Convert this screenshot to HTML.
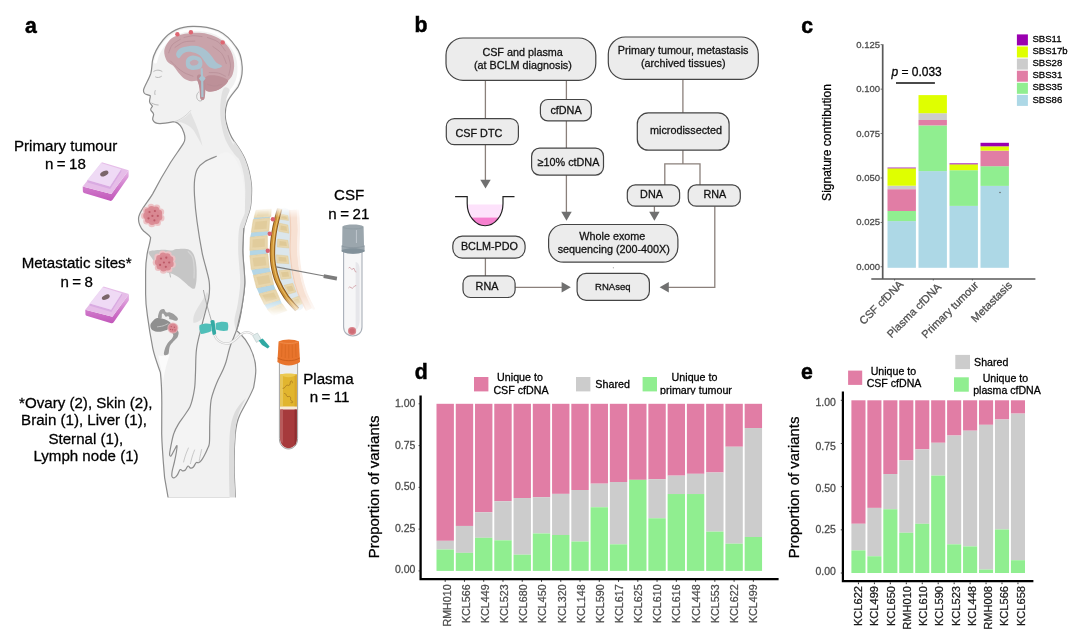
<!DOCTYPE html>
<html lang="en"><head><meta charset="utf-8"><title>Figure</title>
<style>html,body{margin:0;padding:0;background:#fff}body{width:1080px;height:639px;overflow:hidden;font-family:"Liberation Sans",sans-serif}svg{display:block;opacity:0.999}svg text{font-family:"Liberation Sans",sans-serif}.t rect,.t circle,.t path{stroke:none}</style>
</head><body>
<svg width="1080" height="639" viewBox="0 0 1080 639">
<rect width="1080" height="639" fill="#fff"/>
<defs>
<linearGradient id="skinfade" x1="0" y1="0" x2="1" y2="0">
<stop offset="0" stop-color="#f3d2c0"/><stop offset="0.6" stop-color="#f8e3d8"/><stop offset="1" stop-color="#ffffff"/>
</linearGradient>
<radialGradient id="tum" cx="0.5" cy="0.5" r="0.5">
<stop offset="0" stop-color="#d97f8a"/><stop offset="0.75" stop-color="#dc8b95"/><stop offset="1" stop-color="#e9b3b8"/>
</radialGradient>
<linearGradient id="fadev" x1="0" y1="0" x2="0" y2="1">
<stop offset="0" stop-color="#000"/><stop offset="0.1" stop-color="#fff"/><stop offset="0.82" stop-color="#fff"/><stop offset="1" stop-color="#000"/>
</linearGradient>
<mask id="spinemask" maskUnits="userSpaceOnUse" x="240" y="200" width="100" height="125"><rect x="240" y="207" width="100" height="109" fill="url(#fadev)"/></mask>
<linearGradient id="cassside" x1="0" y1="0" x2="0" y2="1"><stop offset="0" stop-color="#e6b7e6"/><stop offset="0.55" stop-color="#d07acb"/><stop offset="1" stop-color="#c257ba"/></linearGradient>
</defs>

<!-- ===================== BODY ===================== -->
<g id="body" stroke-linejoin="round" stroke-linecap="round">
<!-- torso + head + legs silhouette -->
<path id="torso" d="M192.3 26.4
C181 26.6 170 31.5 163 40 C157 47.5 153.4 55 152.4 61 C151.8 66 151.8 70 150.8 73.5
C149 79 145 85 143.6 89.6 C143.2 92 144.4 94 147 94.6 L150.2 95.6 C150.6 97.6 149.2 99.8 149.6 102
C150 104 152 105 152.4 106.4 C151.6 107.6 150.4 108.6 150.8 110 C151.4 111.6 153.4 112.4 153.6 114.4
C153.6 116.4 152.2 118 152.8 119.8 C153.6 122.4 156.4 123.6 160 123.6 C165 123.4 170 122.4 174.6 121.6
C179 123 182.4 127.6 184 133 C185.6 138 185 141 183.4 143.4
C180 149 175 155.6 170.4 162.8 C164 173 158 183.6 152.8 193.6 C148 202 140.6 209 138.8 216.6
C137.6 222 140.6 228 143.6 231 C146.4 233.6 149.4 235 150.6 237.4
C150.4 242 148.4 247 147.4 252.6 C146 260 145.6 266 145.6 272 L145.6 294
C145.6 302 146.4 309 147.4 315.6 C148.8 326 150.6 337 152.8 348.4 C154.6 357 157.8 365 160.4 372.6
C161.4 382 161.8 392 161.8 402.8 L161.7 434 C162 448 163.4 463 164.6 477.6 L168.2 498.2
L235.4 498.2 C235 488 234.2 478 234.2 468.6 C234 456 234.2 446 235.2 434.4
C236 426 237.4 420 239.6 415.4 C243 408 249 399 253.6 387.6 C254.8 381 255.8 376 255.8 370
C255.8 362 253 353 249.6 346.4 C246.8 341 243.6 337 240.4 334 L236.4 330.4
C238.4 326 240.4 318 242.2 304.8 C243.6 296 244.8 289 244.8 282.8 C244.6 272 243 260 242.8 250
C242.8 242 243.2 235 243.8 228.4 C245 224 246.4 221 247.2 217.4 C249.4 212 250.8 207 251 202.4
C251.6 196 251.8 190 251.4 184.8 C250.4 175 248 166 244.8 158.4 C241.4 151 237.6 146 234 141
C230 135.6 227.6 128 226 121.6 C224.6 115 225.2 108 227.4 102 C230 96 235 91.6 238.2 86.6
C241 81 242.6 74 242.2 66.8 C241.6 57 239.4 51 236 47 C231 39.6 225 34 218.4 30.8 C210 27.4 201 26.2 192.3 26.4 Z"
 fill="#f1f1f1" stroke="#8c8c8c" stroke-width="1.2"/>
<!-- inner highlight of skull -->
<path d="M191.5 29.6 C182 30 172.6 34 166 41.6 C160 48.6 156.6 55.6 155.4 62 M193 29.4 C203 29.4 211 30.6 217 33.6 C224 37.2 229.4 42.4 233.6 49 C237.4 55 238.8 60.6 239 67 C239.4 74 238 80 235.4 85 C232 90.6 227.6 94 224.8 100"
 fill="none" stroke="#ffffff" stroke-width="3.2" opacity="0.9"/>
<!-- back shading -->
<path d="M234 141 C237.6 146 241.4 151 244.8 158.4 C248 166 250.4 175 251.4 184.8 C251.8 190 251.6 196 251 202.4 C250.8 207 249.4 212 247.2 217.4 C246.4 221 245 224 243.8 228.4
C243.6 222 244 214 244.6 206 C245.6 196 245.6 186 244 176 C242.4 166 238.6 156 233 148 Z" fill="#e0e0e0"/>
<path d="M229.6 90.0 C230.0 92.0 226.9 95.5 226.2 100.3 C225.5 105.1 224.4 112.6 225.2 119.1 C225.9 125.6 228.0 133.0 230.7 139.5 C233.4 146.0 240.7 155.4 241.6 158.2 C242.5 160.9 238.7 159.1 236.0 156.0 C233.3 152.9 228.0 145.7 225.4 139.5 C222.8 133.3 221.4 125.6 220.6 119.1 C219.8 112.6 220.2 105.5 220.8 100.3 C221.4 95.1 222.5 89.7 224.0 88.0 C225.5 86.3 229.2 88.0 229.6 90.0 Z" fill="#e0e0e0"/>
<!-- back thigh shade -->
<path d="M246 398 C242 405 239.6 410.4 238 415.4 C236 422 235.4 428 235.2 434.4 C234.2 446 234 456 234.2 468.6 C234.2 478 235 488 235.4 498.2 L229.6 498.2 C229 480 228.6 456 229.6 436 C230.4 424 232.6 416 236 410 C239 405 242.6 401 246 398 Z" fill="#dcdcdc"/>
<!-- groin highlight -->
<path d="M158.2 355.6 C159.4 362 161 368 162 374 C162.4 377 162.8 380 163 383 C164 374 166.6 363 169.8 354.6 C166 355.8 162 356.2 158.2 355.6 Z" fill="#fbfbfb"/>
<!-- eye & ear details -->
<path d="M155.6 77 C157.4 78 159.6 77.6 161.4 76.4 M153.8 71.4 C156 69.8 159.6 69.6 162 71.4 M155.2 90.6 C154.6 92 154.6 93.6 155 94.6 M151.9 103.2 C154 104.4 156.4 105 158.2 105" fill="none" stroke="#a9a9a9" stroke-width="0.8" stroke-linecap="round"/>
<path d="M198.6 92 C196 94 196 98.6 198.4 100.4 C200 101.6 202 101 203 99.4" fill="none" stroke="#a5a5a5" stroke-width="0.7"/>
<path d="M176 121.4 C181 120.4 186.6 116.6 190.6 112 C193 118 196 124 198 130 C200 136 201.6 141 202.4 146 C199.6 141 197 136 194 131 C190.6 126 184 122 176 121.4 Z" fill="#e2e2e2"/>
<!-- jaw line -->
<path d="M174.6 121.6 C180 120 186 116 190.6 110.6" fill="none" stroke="#d2d2d2" stroke-width="0.9"/>

<path d="M207 292 C203 300 197 308 194.4 314 C193 318 193 321 193.6 323 C197 322.6 200 321 202 318.6 C205 312 208 304 209.6 296 Z" fill="#e0e0e0"/>
<!-- arm (in front of torso) -->
<path id="arm" d="M216.3 156.3 C213.5 157.7 208.2 159.4 205.0 161.5 C201.8 163.6 199.1 165.9 197.4 169.0 C195.7 172.1 195.1 175.6 194.6 180.0 C194.1 184.4 194.1 188.7 194.5 195.7 C194.9 202.7 195.8 212.5 197.1 222.0 C198.4 231.5 200.6 244.9 202.1 252.6 C203.6 260.3 204.8 263.0 206.0 268.0 C207.2 273.0 208.9 277.8 209.3 282.8 C209.8 287.8 209.9 291.2 208.7 298.2 C207.5 305.1 204.1 316.1 202.1 324.5 C200.1 332.9 197.7 340.5 196.6 348.5 C195.5 356.5 195.8 366.0 195.5 372.6 C195.2 379.2 195.2 383.4 194.6 388.0 C194.0 392.6 193.0 396.9 192.2 400.0 C191.4 403.1 191.2 404.3 189.9 406.9 C188.6 409.5 186.3 412.6 184.4 415.5 C182.5 418.4 180.1 421.2 178.4 424.1 C176.7 427.0 175.2 429.6 174.1 432.7 C172.9 435.8 172.2 439.4 171.5 443.0 C170.8 446.6 169.7 451.9 169.6 454.0 C169.5 456.1 170.4 456.4 171.2 455.7 C172.0 454.9 173.6 451.2 174.6 449.5 C175.6 447.8 176.7 445.2 177.0 445.6 C177.3 446.0 176.8 449.3 176.4 452.0 C176.0 454.7 175.1 458.8 174.4 462.0 C173.7 465.2 172.6 468.6 172.2 471.0 C171.8 473.4 171.6 475.5 172.0 476.6 C172.4 477.7 173.5 478.1 174.4 477.8 C175.3 477.5 176.4 476.2 177.4 474.8 C178.4 473.4 179.3 470.2 180.2 469.6 C181.1 469.0 181.7 470.8 182.6 470.9 C183.5 471.0 184.5 470.8 185.4 470.0 C186.3 469.2 187.1 466.3 188.0 466.0 C188.9 465.7 189.7 467.9 190.6 468.1 C191.5 468.3 192.5 467.9 193.4 467.0 C194.3 466.1 195.3 463.3 196.2 462.6 C197.1 461.9 197.7 463.1 198.6 462.7 C199.5 462.3 200.4 461.7 201.4 460.4 C202.4 459.1 203.6 456.9 204.6 455.0 C205.6 453.1 206.6 451.0 207.4 449.0 C208.2 447.0 209.0 446.9 209.4 443.0 C209.8 439.1 209.6 431.2 209.7 425.8 C209.8 420.4 210.0 414.6 210.2 410.3 C210.4 406.0 210.5 403.4 211.1 400.0 C211.7 396.6 212.8 393.3 214.0 390.0 C215.2 386.7 216.5 383.3 218.0 380.0 C219.5 376.7 221.6 373.0 222.9 370.0 C224.2 367.0 224.9 365.6 226.0 362.0 C227.1 358.4 228.4 352.2 229.5 348.5 C230.6 344.8 231.4 343.0 232.6 340.0 C233.8 337.0 235.3 333.7 236.4 330.4 C237.5 327.1 238.0 324.3 239.0 320.0 C240.0 315.7 241.2 311.0 242.2 304.8 C243.2 298.6 244.6 289.9 244.8 282.8 C245.0 275.7 243.8 267.5 243.5 262.0 C243.2 256.5 242.8 255.6 242.8 250.0 C242.9 244.4 243.4 236.1 243.8 228.4 C244.2 220.7 245.0 211.4 245.0 204.0 C245.0 196.6 244.4 190.0 243.6 184.0 C242.8 178.0 241.6 172.5 240.0 168.0 C238.4 163.5 236.0 159.6 234.0 157.0 C232.0 154.4 230.0 153.2 228.0 152.6 C226.0 152.0 223.9 152.6 222.0 153.2 C220.1 153.8 219.1 154.9 216.3 156.3 Z" fill="#f4f4f4" stroke="none"/>
<path d="M246.0 212.0 C245.7 214.7 244.3 222.1 243.8 228.4 C243.3 234.7 242.9 244.4 242.8 250.0 C242.8 255.6 243.2 256.5 243.5 262.0 C243.8 267.5 245.0 275.7 244.8 282.8 C244.6 289.9 243.2 298.6 242.2 304.8 C241.2 311.0 240.0 315.7 239.0 320.0 C238.0 324.3 236.9 328.7 236.4 330.4 C235.9 332.1 236.2 332.1 235.9 330.4 C235.6 328.7 234.1 324.3 234.4 320.0 C234.7 315.7 236.6 311.0 237.6 304.8 C238.6 298.6 240.0 289.9 240.2 282.8 C240.4 275.7 239.2 267.5 238.9 262.0 C238.6 256.5 238.2 255.6 238.2 250.0 C238.3 244.4 238.0 234.7 239.2 228.4 C240.4 222.1 244.4 214.7 245.5 212.0 C246.6 209.3 246.3 209.3 246.0 212.0 Z" fill="#e1e1e1"/>
<path d="M216.3 156.3 C214.4 157.2 208.2 159.4 205.0 161.5 C201.8 163.6 199.1 165.9 197.4 169.0 C195.7 172.1 195.1 175.6 194.6 180.0 C194.1 184.4 194.1 188.7 194.5 195.7 C194.9 202.7 195.8 212.5 197.1 222.0 C198.4 231.5 200.6 244.9 202.1 252.6 C203.6 260.3 204.8 263.0 206.0 268.0 C207.2 273.0 208.9 277.8 209.3 282.8 C209.8 287.8 209.9 291.2 208.7 298.2 C207.5 305.1 204.1 316.1 202.1 324.5 C200.1 332.9 197.7 340.5 196.6 348.5 C195.5 356.5 195.8 366.0 195.5 372.6 C195.2 379.2 195.2 383.4 194.6 388.0 C194.0 392.6 193.0 396.9 192.2 400.0 C191.4 403.1 191.2 404.3 189.9 406.9 C188.6 409.5 186.3 412.6 184.4 415.5 C182.5 418.4 180.1 421.2 178.4 424.1 C176.7 427.0 175.2 429.6 174.1 432.7 C172.9 435.8 172.2 439.4 171.5 443.0 C170.8 446.6 169.7 451.9 169.6 454.0 C169.5 456.1 170.4 456.4 171.2 455.7 C172.0 454.9 173.6 451.2 174.6 449.5 C175.6 447.8 176.7 445.2 177.0 445.6 C177.3 446.0 176.8 449.3 176.4 452.0 C176.0 454.7 175.1 458.8 174.4 462.0 C173.7 465.2 172.6 468.6 172.2 471.0 C171.8 473.4 171.6 475.5 172.0 476.6 C172.4 477.7 173.5 478.1 174.4 477.8 C175.3 477.5 176.4 476.2 177.4 474.8 C178.4 473.4 179.3 470.2 180.2 469.6 C181.1 469.0 181.7 470.8 182.6 470.9 C183.5 471.0 184.5 470.8 185.4 470.0 C186.3 469.2 187.1 466.3 188.0 466.0 C188.9 465.7 189.7 467.9 190.6 468.1 C191.5 468.3 192.5 467.9 193.4 467.0 C194.3 466.1 195.3 463.3 196.2 462.6 C197.1 461.9 197.7 463.1 198.6 462.7 C199.5 462.3 200.4 461.7 201.4 460.4 C202.4 459.1 203.6 456.9 204.6 455.0 C205.6 453.1 206.6 451.0 207.4 449.0 C208.2 447.0 209.0 446.9 209.4 443.0 C209.8 439.1 209.6 431.2 209.7 425.8 C209.8 420.4 210.0 414.6 210.2 410.3 C210.4 406.0 210.5 403.4 211.1 400.0 C211.7 396.6 212.8 393.3 214.0 390.0 C215.2 386.7 216.5 383.3 218.0 380.0 C219.5 376.7 221.6 373.0 222.9 370.0 C224.2 367.0 224.9 365.6 226.0 362.0 C227.1 358.4 228.4 352.2 229.5 348.5 C230.6 344.8 231.4 343.0 232.6 340.0 C233.8 337.0 235.3 333.7 236.4 330.4 C237.5 327.1 238.0 324.3 239.0 320.0 C240.0 315.7 241.2 311.0 242.2 304.8 C243.2 298.6 244.6 289.9 244.8 282.8 C245.0 275.7 243.8 267.5 243.5 262.0 C243.2 256.5 242.8 255.6 242.8 250.0 C242.9 244.4 243.6 232.0 243.8 228.4" fill="none" stroke="#8c8c8c" stroke-width="1.2"/>
<path d="M183.6 462.0 C183.9 460.8 184.8 457.3 185.6 455.0 C186.4 452.7 187.9 449.2 188.4 448.0 M190.4 463.7 C190.7 462.4 191.7 458.3 192.4 456.0 C193.1 453.7 194.2 451.0 194.6 450.0 M199.1 461.1 C199.3 460.1 200.0 456.9 200.4 455.0 C200.8 453.1 201.4 450.5 201.6 449.6" fill="none" stroke="#b5b5b5" stroke-width="0.7"/>
</g>

<rect x="160" y="497.5" width="90" height="4" fill="#fff"/>
<!-- ===================== BRAIN ===================== -->
<g id="brain">
<path d="M164.2 51.0 C164.4 47.9 166.3 44.5 168.2 42.0 C170.0 39.5 171.5 37.7 175.4 36.2 C179.2 34.7 185.9 33.4 191.2 33.0 C196.6 32.6 202.3 32.7 207.4 33.9 C212.5 35.1 217.9 37.4 221.8 40.2 C225.7 43.1 228.8 47.1 230.8 51.0 C232.9 54.9 233.8 59.7 234.1 63.6 C234.4 67.5 233.6 71.6 232.6 74.4 C231.6 77.3 229.6 78.8 228.1 80.7 C226.6 82.7 225.6 84.5 223.6 86.1 C221.7 87.8 219.0 89.7 216.4 90.6 C213.9 91.5 210.3 91.8 208.3 91.5 C206.3 91.2 205.2 87.7 204.5 88.8 C203.9 89.9 205.0 96.5 204.4 98.2 C203.7 99.8 201.4 100.4 200.6 98.7 C199.8 97.0 200.0 90.8 199.5 87.9 C199.0 85.0 198.9 82.4 197.5 81.3 C196.1 80.1 193.5 81.7 191.2 81.3 C189.0 80.8 186.3 80.0 184.0 78.4 C181.8 76.8 179.5 73.8 177.7 71.7 C175.9 69.6 175.0 67.6 173.2 65.8 C171.4 64.0 168.4 63.4 166.9 60.9 C165.4 58.5 164.0 54.2 164.2 51.0 Z" fill="#c9a3aa"/>
<path d="M205.6 77.1 C207.3 75.0 211.3 75.1 214.6 75.3 C217.9 75.5 223.2 77.4 225.4 78.4 C227.7 79.4 228.4 79.9 228.1 81.3 C227.8 82.6 225.6 84.7 223.6 86.3 C221.7 87.9 219.0 89.8 216.4 90.6 C213.9 91.5 210.3 92.0 208.3 91.5 C206.3 91.1 205.0 90.3 204.5 87.9 C204.1 85.5 203.9 79.2 205.6 77.1 Z" fill="#bd9098"/>
<path d="M168.7 52.8 C169.3 51.5 170.4 47.0 172.3 44.7 C174.3 42.5 179.1 40.2 180.4 39.3 M184.0 37.5 C185.5 37.2 190.0 35.9 193.0 35.7 C196.0 35.6 200.5 36.5 202.0 36.6 M207.4 37.5 C209.2 38.3 215.2 39.8 218.2 42.0 C221.2 44.3 224.2 49.5 225.4 51.0 M228.1 55.5 C228.5 57.2 230.4 62.1 230.5 65.4 C230.6 68.7 229.0 73.7 228.7 75.3 M170.5 60.9 C171.6 62.0 174.6 65.3 176.8 67.2 C179.1 69.2 181.3 71.1 184.0 72.6 C186.7 74.1 191.5 75.6 193.0 76.2 M209.2 72.6 C210.7 72.7 215.5 72.4 218.2 73.0 C220.9 73.6 224.2 75.7 225.4 76.2 M175.0 47.4 C176.5 46.5 180.7 43.1 184.0 42.0 C187.3 41.0 193.0 41.3 194.8 41.1 M212.8 46.5 C214.3 47.7 219.6 50.9 221.8 53.7 C224.1 56.6 225.6 62.0 226.3 63.6 M207.4 84.3 C208.6 84.6 212.2 86.1 214.6 86.1 C217.0 86.1 220.6 84.6 221.8 84.3" fill="none" stroke="#b58a94" stroke-width="0.9" opacity="0.75" stroke-linecap="round"/>
<path d="M197.0 76.2 C197.4 74.1 200.6 74.1 202.0 75.3 C203.4 76.5 204.8 79.6 205.3 83.4 C205.7 87.2 205.3 95.6 204.5 98.2 C203.8 100.7 201.4 100.4 200.6 98.7 C199.7 97.0 200.1 91.7 199.5 87.9 C198.9 84.2 196.6 78.3 197.0 76.2 Z" fill="#bb8d95"/>
<path d="M176.1 54.3 C176.2 52.7 177.3 50.2 179.5 48.8 C181.7 47.5 186.0 46.3 189.4 46.0 C192.9 45.7 196.9 45.8 200.2 47.0 C203.5 48.2 206.6 50.6 209.2 53.2 C211.9 55.7 213.9 60.0 216.1 62.2 C218.2 64.3 222.2 65.1 222.2 66.1 C222.2 67.2 218.2 68.5 216.1 68.7 C213.9 68.8 211.2 68.1 209.2 66.9 C207.2 65.6 205.8 62.9 204.2 60.9 C202.5 58.9 201.5 56.5 199.3 55.0 C197.2 53.5 193.8 52.2 191.2 51.9 C188.6 51.6 185.7 52.1 183.7 53.2 C181.6 54.2 180.2 58.0 179.0 58.2 C177.7 58.4 176.0 55.8 176.1 54.3 Z" fill="#a9c3d0"/>
<path d="M187.3 57.9 C188.5 56.7 190.8 55.5 193.0 55.5 C195.2 55.5 199.0 56.5 200.6 57.9 C202.1 59.2 202.4 61.9 202.4 63.6 C202.4 65.4 202.1 67.2 200.6 68.3 C199.0 69.3 195.2 69.9 193.0 69.9 C190.8 69.9 188.5 69.3 187.3 68.1 C186.1 66.9 185.8 64.4 185.8 62.7 C185.8 61.0 186.1 59.1 187.3 57.9 Z" fill="#a9c3d0"/>
<path d="M189.8 62.2 C190.1 61.2 192.7 59.8 194.1 59.7 C195.5 59.5 197.9 60.6 198.4 61.5 C198.9 62.3 198.0 64.0 197.0 64.7 C195.9 65.4 193.3 65.8 192.1 65.4 C190.9 65.0 189.4 63.1 189.8 62.2 Z" fill="#c4a7b0"/>
<path d="M200.6 68.3 L202.7 68.3 L203.1 75.9 L205.6 78.4 L203.3 81.3 L203.5 96.9 L201.3 96.9 L201.1 81.3 L198.8 78.4 L200.9 75.9 Z" fill="#a9c3d0"/>
<circle cx="177.4" cy="34.2" r="2.2" fill="#de6672"/>
<circle cx="190.9" cy="32.2" r="2.2" fill="#de6672"/>
<circle cx="222.7" cy="42.4" r="2.2" fill="#de6672"/>
</g>

<!-- ===================== ORGANS ===================== -->
<g id="organs">
<!-- liver -->
<path d="M148.6 252.1 C149.1 250.5 152.8 250.6 155.5 250.2 C158.2 249.8 162.3 249.6 165.0 249.7 C167.7 249.7 170.0 250.6 171.9 250.5 C173.8 250.4 174.1 249.3 176.2 249.1 C178.4 248.8 182.4 248.5 184.8 248.8 C187.3 249.1 189.2 249.4 190.9 250.8 C192.5 252.2 193.8 254.4 194.7 257.2 C195.7 260.0 196.2 263.9 196.5 267.6 C196.8 271.3 196.7 276.4 196.5 279.7 C196.2 283.0 195.7 285.9 195.2 287.4 C194.6 288.9 194.2 289.0 193.0 288.7 C191.9 288.4 190.4 287.3 188.3 285.7 C186.2 284.0 183.1 280.7 180.5 278.8 C177.9 276.9 175.2 275.2 172.8 274.1 C170.3 272.9 168.3 273.0 165.9 271.9 C163.4 270.8 160.3 269.6 158.1 267.6 C155.9 265.6 154.5 262.4 152.9 259.8 C151.4 257.2 148.2 253.7 148.6 252.1 Z" fill="#c6c6c6"/>
<path d="M188.3 251.6 C189.0 252.6 191.6 254.6 192.6 257.2 C193.6 259.9 193.9 264.1 194.1 267.6 C194.4 271.0 194.0 276.2 194.0 277.9" fill="none" stroke="#d6d6d6" stroke-width="1.2" stroke-linecap="round"/>
<path d="M169.6 272.6 L170.6 277.4" stroke="#bdbdbd" stroke-width="1.1" fill="none"/>
<!-- liver tumour -->
<g>
<circle cx="172.3" cy="264.4" r="3.5" fill="#ecc3c6"/>
<circle cx="168.9" cy="268.9" r="3.5" fill="#ecc3c6"/>
<circle cx="163.4" cy="270.2" r="3.5" fill="#ecc3c6"/>
<circle cx="158.3" cy="267.6" r="3.5" fill="#ecc3c6"/>
<circle cx="156.2" cy="262.4" r="3.5" fill="#ecc3c6"/>
<circle cx="157.8" cy="257.0" r="3.5" fill="#ecc3c6"/>
<circle cx="162.6" cy="253.9" r="3.5" fill="#ecc3c6"/>
<circle cx="168.2" cy="254.7" r="3.5" fill="#ecc3c6"/>
<circle cx="172.0" cy="258.8" r="3.5" fill="#ecc3c6"/>
<circle cx="164.4" cy="262.0" r="8.8" fill="#e6abb1"/>
<circle cx="170.5" cy="263.9" r="3.2" fill="#db8c95"/>
<circle cx="167.8" cy="267.3" r="3.2" fill="#db8c95"/>
<circle cx="163.6" cy="268.3" r="3.2" fill="#db8c95"/>
<circle cx="159.8" cy="266.3" r="3.2" fill="#db8c95"/>
<circle cx="158.1" cy="262.3" r="3.2" fill="#db8c95"/>
<circle cx="159.4" cy="258.2" r="3.2" fill="#db8c95"/>
<circle cx="163.0" cy="255.8" r="3.2" fill="#db8c95"/>
<circle cx="167.3" cy="256.4" r="3.2" fill="#db8c95"/>
<circle cx="170.2" cy="259.5" r="3.2" fill="#db8c95"/>
<circle cx="164.4" cy="262.0" r="6.7" fill="#d98892"/>
<circle cx="161.0" cy="258.6" r="1.1" fill="#bd5a68"/>
<circle cx="166.3" cy="257.7" r="1.1" fill="#bd5a68"/>
<circle cx="169.2" cy="262.5" r="1.1" fill="#bd5a68"/>
<circle cx="163.9" cy="262.5" r="1.1" fill="#bd5a68"/>
<circle cx="160.1" cy="264.9" r="1.1" fill="#bd5a68"/>
<circle cx="165.8" cy="266.8" r="1.1" fill="#bd5a68"/>
</g>
<!-- breast tumour -->
<g>
<circle cx="161.0" cy="217.9" r="3.5" fill="#ecc3c6"/>
<circle cx="157.5" cy="222.5" r="3.5" fill="#ecc3c6"/>
<circle cx="151.8" cy="223.8" r="3.5" fill="#ecc3c6"/>
<circle cx="146.7" cy="221.1" r="3.5" fill="#ecc3c6"/>
<circle cx="144.5" cy="215.8" r="3.5" fill="#ecc3c6"/>
<circle cx="146.2" cy="210.3" r="3.5" fill="#ecc3c6"/>
<circle cx="151.0" cy="207.2" r="3.5" fill="#ecc3c6"/>
<circle cx="156.8" cy="207.9" r="3.5" fill="#ecc3c6"/>
<circle cx="160.7" cy="212.1" r="3.5" fill="#ecc3c6"/>
<circle cx="152.9" cy="215.4" r="9.0" fill="#e6abb1"/>
<circle cx="159.1" cy="217.3" r="3.2" fill="#db8c95"/>
<circle cx="156.4" cy="220.8" r="3.2" fill="#db8c95"/>
<circle cx="152.1" cy="221.8" r="3.2" fill="#db8c95"/>
<circle cx="148.2" cy="219.8" r="3.2" fill="#db8c95"/>
<circle cx="146.4" cy="215.7" r="3.2" fill="#db8c95"/>
<circle cx="147.7" cy="211.5" r="3.2" fill="#db8c95"/>
<circle cx="151.5" cy="209.1" r="3.2" fill="#db8c95"/>
<circle cx="155.9" cy="209.6" r="3.2" fill="#db8c95"/>
<circle cx="158.9" cy="212.9" r="3.2" fill="#db8c95"/>
<circle cx="152.9" cy="215.4" r="6.9" fill="#d98892"/>
<circle cx="149.5" cy="212.0" r="1.1" fill="#bd5a68"/>
<circle cx="154.9" cy="211.0" r="1.1" fill="#bd5a68"/>
<circle cx="157.8" cy="215.9" r="1.1" fill="#bd5a68"/>
<circle cx="152.4" cy="215.9" r="1.1" fill="#bd5a68"/>
<circle cx="148.5" cy="218.3" r="1.1" fill="#bd5a68"/>
<circle cx="154.4" cy="220.3" r="1.1" fill="#bd5a68"/>
</g>
<!-- uterus / ovary -->
<path d="M171.2 331.1 C171.8 330.3 175.5 329.6 176.7 329.8 C177.9 330.1 178.4 331.6 178.6 332.8 C178.7 334.0 178.3 335.7 177.5 337.2 C176.6 338.6 174.7 340.0 173.4 341.5 C172.1 343.1 170.6 344.4 169.8 346.5 C168.9 348.6 169.2 352.8 168.3 354.1 C167.3 355.5 164.7 355.5 164.1 354.7 C163.5 353.9 164.2 351.1 164.8 349.2 C165.3 347.3 166.4 344.9 167.6 343.2 C168.8 341.5 170.8 340.2 171.8 338.8 C172.7 337.4 173.4 336.3 173.3 335.0 C173.2 333.7 170.6 332.0 171.2 331.1 Z" fill="#9a9a9a"/>
<path d="M158.1 318.0 C157.6 317.1 158.4 314.4 158.8 313.1 C159.3 311.7 159.9 310.4 160.8 309.8 C161.7 309.1 163.2 308.8 164.1 309.2 C165.0 309.7 165.2 311.8 166.1 312.3 C167.0 312.8 168.1 311.9 169.6 312.3 C171.0 312.7 173.4 313.9 174.8 314.9 C176.2 316.0 177.6 317.5 177.9 318.4 C178.2 319.4 177.3 320.6 176.4 320.8 C175.4 321.1 173.4 320.2 172.0 319.8 C170.6 319.4 169.0 319.0 167.9 318.4 C166.8 317.9 166.2 317.2 165.4 316.5 C164.7 315.7 164.0 314.2 163.4 313.8 C162.9 313.5 162.2 313.4 161.9 314.2 C161.6 314.9 162.1 317.6 161.5 318.2 C160.8 318.9 158.5 318.9 158.1 318.0 Z" fill="#9d9d9d"/>
<path d="M165.8 316.9 C166.3 316.5 167.7 316.0 168.3 316.2 C168.8 316.5 169.5 317.6 169.4 318.2 C169.2 318.8 168.0 319.6 167.4 319.8 C166.8 319.9 166.1 319.4 165.8 318.9 C165.6 318.4 165.4 317.3 165.8 316.9 Z" fill="#f1f1f1"/>
<path d="M150.4 325.1 C150.6 323.8 151.6 322.4 152.6 321.3 C153.6 320.1 154.9 318.7 156.4 318.2 C158.0 317.7 160.1 318.1 161.9 318.4 C163.7 318.8 165.8 319.5 167.4 320.4 C168.9 321.3 170.9 322.5 171.2 323.7 C171.6 324.9 170.5 326.8 169.6 327.9 C168.7 329.0 167.2 329.6 165.7 330.3 C164.3 330.9 162.5 331.5 160.8 331.7 C159.1 331.9 156.9 331.8 155.3 331.4 C153.8 330.9 152.3 330.2 151.5 329.2 C150.7 328.1 150.2 326.4 150.4 325.1 Z" fill="#8f8f8f"/>
<path d="M157.5 326.8 C158.4 326.6 161.3 326.4 163.0 325.9 C164.7 325.4 167.1 324.1 167.9 323.7" fill="none" stroke="#c9c9c9" stroke-width="0.9" stroke-linecap="round"/>
<circle cx="172.9" cy="328" r="5.5" fill="#e6b1b6" opacity="0.85"/>
<circle cx="172.9" cy="328" r="4.5" fill="#d98892"/>
<g fill="#bd5a68"><circle cx="171.3" cy="326.6" r="0.7"/><circle cx="174.4" cy="327.2" r="0.7"/><circle cx="172.6" cy="329.8" r="0.7"/><circle cx="175" cy="330" r="0.7"/><circle cx="170.6" cy="329.4" r="0.7"/></g>

</g>

<!-- ===================== BUTTERFLY NEEDLE ===================== -->
<g id="butterfly">
<path d="M203.4 290 C205.2 300 208.6 311 211.6 321.4" fill="none" stroke="#9a9a9a" stroke-width="0.8"/>
<path d="M214.4 334.6 C216 340 221 343.6 227 343.6 C233 343.4 236.6 338 240.6 334.6 C244.6 331.4 249 331.4 253 334.6" fill="none" stroke="#c8c8c8" stroke-width="2.4"/>
<path d="M214.4 334.6 C216 340 221 343.6 227 343.6 C233 343.4 236.6 338 240.6 334.6 C244.6 331.4 249 331.4 253 334.6" fill="none" stroke="#f7f7f7" stroke-width="1.2"/>
<path d="M199.6 325 C203 323.4 207.6 323 211 324 L211.6 331 C208 332.6 204 334 201 334 C199.4 331.4 198.8 327.6 199.6 325 Z" fill="#50bfb9"/>
<path d="M215.6 323.4 C219.6 321.6 224.6 321.4 227.6 322.6 C228.6 325 228.4 328.6 227.6 330.6 C224 331.4 219.6 331 216 329.6 Z" fill="#50bfb9"/>
<path d="M210.4 321 Q212.4 319.4 214.4 320.6 L216.2 333.6 Q214.6 335.6 212.6 334.6 Z" fill="#34aaa4"/>
<!-- connector -->
<path d="M252.6 335.6 L257.4 333 L261.4 339.6 L256.4 342.4 Z" fill="#dfeaea" stroke="#b6c6c6" stroke-width="0.6"/>
<path d="M258.6 340.6 L262.6 338.4 L269.6 346.4 L267.8 348.6 L262 345 Z" fill="#2fa9a3"/>
</g>

<!-- ===================== SPINE ===================== -->
<g id="spine" mask="url(#spinemask)">
<path d="M278.1 209.8 C280.7 205.7 287.8 207.5 289.9 210.8 C291.9 214.0 290.4 223.0 290.4 229.3 C290.4 235.7 289.7 242.4 289.9 248.9 C290.0 255.4 290.3 261.9 291.2 268.4 C292.2 275.0 293.7 281.8 295.7 288.0 C297.8 294.2 303.6 302.0 303.6 305.6 C303.6 309.2 298.8 311.8 295.7 309.5 C292.6 307.2 288.1 297.8 285.0 291.9 C281.9 286.0 279.1 279.8 277.2 274.3 C275.2 268.8 273.7 265.2 273.2 258.7 C272.8 252.1 273.4 243.3 274.2 235.2 C275.0 227.0 275.5 213.9 278.1 209.8 Z" fill="#dbe6ec"/>
<path d="M293.2 209.8 C293.4 213.0 294.1 222.5 294.2 229.3 C294.2 236.2 293.3 243.7 293.6 250.8 C293.9 258.0 294.7 265.5 295.9 272.4 C297.2 279.2 298.8 285.7 301.0 291.9 C303.3 298.1 308.0 306.6 309.4 309.5" fill="none" stroke="#f7e1d3" stroke-width="7.6"/>
<path d="M297.9 209.8 C298.0 213.0 298.8 222.5 298.9 229.3 C298.9 236.2 298.0 243.7 298.3 250.8 C298.6 258.0 299.4 265.5 300.6 272.4 C301.9 279.2 303.5 285.7 305.7 291.9 C308.0 298.1 312.7 306.6 314.1 309.5" fill="none" stroke="#fbefe8" stroke-width="2.4"/>
<path d="M289.7 209.8 C289.8 213.0 290.6 222.5 290.6 229.3 C290.7 236.2 289.8 243.7 290.1 250.8 C290.4 258.0 291.2 265.5 292.4 272.4 C293.6 279.2 295.2 285.7 297.5 291.9 C299.7 298.1 304.5 306.6 305.9 309.5" fill="none" stroke="#f0cfbb" stroke-width="1.2"/>
<path d="M254.1 217.6 L270.9 216.6 L269.7 218.0 L253.3 219.6 Z" fill="#b4d6e6"/>
<path d="M251.3 232.3 L268.9 230.9 L267.4 235.6 L250.2 237.2 Z" fill="#b4d6e6"/>
<path d="M249.8 250.4 L267.4 248.9 L267.8 253.8 L249.8 255.7 Z" fill="#b4d6e6"/>
<path d="M251.3 269.4 L269.3 267.5 L270.9 272.0 L253.3 275.3 Z" fill="#b4d6e6"/>
<path d="M256.6 288.0 L273.6 284.5 L275.6 289.6 L259.2 293.9 Z" fill="#b4d6e6"/>
<path d="M264.4 304.6 L280.1 299.7 L282.0 303.6 L267.4 309.5 Z" fill="#b4d6e6"/>
<path d="M256.0 210.2 L271.3 209.0 L270.9 216.6 L254.1 217.6 Z" fill="#e8d6ac" stroke="#dcc794" stroke-width="0.5" stroke-linejoin="round"/>
<path d="M258.1 211.4 L268.8 210.6 L268.5 215.4 L256.8 216.0 Z" fill="#dfc998" opacity="0.8"/>
<path d="M253.3 219.6 L269.7 218.0 L268.9 230.9 L251.3 232.3 Z" fill="#e8d6ac" stroke="#dcc794" stroke-width="0.5" stroke-linejoin="round"/>
<path d="M255.6 221.7 L267.1 220.7 L266.5 228.7 L254.2 229.6 Z" fill="#dfc998" opacity="0.8"/>
<path d="M250.2 237.2 L267.4 235.6 L267.4 248.9 L249.8 250.4 Z" fill="#e8d6ac" stroke="#dcc794" stroke-width="0.5" stroke-linejoin="round"/>
<path d="M252.7 239.4 L264.8 238.4 L264.8 246.7 L252.4 247.6 Z" fill="#dfc998" opacity="0.8"/>
<path d="M249.8 255.7 L267.8 253.8 L269.3 267.5 L251.3 269.4 Z" fill="#e8d6ac" stroke="#dcc794" stroke-width="0.5" stroke-linejoin="round"/>
<path d="M252.7 258.0 L265.3 256.7 L266.4 265.2 L253.8 266.4 Z" fill="#dfc998" opacity="0.8"/>
<path d="M253.3 275.3 L270.9 272.0 L273.6 284.5 L256.6 288.0 Z" fill="#e8d6ac" stroke="#dcc794" stroke-width="0.5" stroke-linejoin="round"/>
<path d="M256.4 277.0 L268.7 275.0 L270.6 282.7 L258.7 284.9 Z" fill="#dfc998" opacity="0.8"/>
<path d="M259.2 293.9 L275.6 289.6 L280.1 299.7 L264.4 304.6 Z" fill="#e8d6ac" stroke="#dcc794" stroke-width="0.5" stroke-linejoin="round"/>
<path d="M262.4 295.0 L273.9 292.4 L277.0 298.7 L266.1 301.7 Z" fill="#dfc998" opacity="0.8"/>
<path d="M267.4 309.5 L282.0 303.6 L286.9 310.5 L273.2 315.8 Z" fill="#e8d6ac" stroke="#dcc794" stroke-width="0.5" stroke-linejoin="round"/>
<path d="M270.4 309.6 L280.6 306.0 L284.1 310.2 L274.5 313.5 Z" fill="#dfc998" opacity="0.8"/>
<path d="M280.1 213.7 L287.9 215.6 L288.5 220.5 L279.7 219.2 Z" fill="#e8d6ac" stroke="#dcc794" stroke-width="0.4" stroke-linejoin="round"/>
<path d="M281.5 215.3 L286.6 216.4 L286.9 219.1 L281.2 218.3 Z" fill="#dcc692" opacity="0.8"/>
<path d="M279.1 223.1 L287.9 225.0 L288.9 233.2 L278.7 231.3 Z" fill="#e8d6ac" stroke="#dcc794" stroke-width="0.4" stroke-linejoin="round"/>
<path d="M280.7 225.4 L286.4 226.4 L287.1 231.0 L280.4 229.9 Z" fill="#dcc692" opacity="0.8"/>
<path d="M277.7 239.1 L287.9 240.3 L288.9 248.1 L277.2 246.9 Z" fill="#e8d6ac" stroke="#dcc794" stroke-width="0.4" stroke-linejoin="round"/>
<path d="M279.6 241.1 L286.2 241.8 L286.8 246.1 L279.2 245.4 Z" fill="#dcc692" opacity="0.8"/>
<path d="M276.4 254.8 L287.9 255.9 L288.9 263.7 L276.8 263.0 Z" fill="#e8d6ac" stroke="#dcc794" stroke-width="0.4" stroke-linejoin="round"/>
<path d="M278.5 256.8 L286.0 257.5 L286.6 261.8 L278.8 261.3 Z" fill="#dcc692" opacity="0.8"/>
<path d="M278.7 270.4 L289.9 269.6 L291.2 278.2 L281.1 279.4 Z" fill="#e8d6ac" stroke="#dcc794" stroke-width="0.4" stroke-linejoin="round"/>
<path d="M281.0 272.2 L288.2 271.8 L289.1 276.5 L282.5 277.1 Z" fill="#dcc692" opacity="0.8"/>
<path d="M284.0 285.3 L292.8 283.3 L295.9 291.9 L288.1 294.3 Z" fill="#e8d6ac" stroke="#dcc794" stroke-width="0.4" stroke-linejoin="round"/>
<path d="M286.2 286.8 L291.9 285.7 L293.9 290.5 L288.8 291.7 Z" fill="#dcc692" opacity="0.8"/>
<path d="M291.2 298.9 L298.7 296.2 L302.2 303.6 L295.9 306.8 Z" fill="#e8d6ac" stroke="#dcc794" stroke-width="0.4" stroke-linejoin="round"/>
<path d="M293.3 300.0 L298.1 298.5 L300.4 302.6 L296.3 304.3 Z" fill="#dcc692" opacity="0.8"/>
<path d="M279.7 208.8 C279.2 210.6 277.7 215.5 276.8 219.6 C275.8 223.6 274.7 228.4 274.0 233.2 C273.3 238.1 272.6 243.7 272.5 248.9 C272.3 254.1 272.4 259.2 273.2 264.5 C274.1 269.9 275.4 275.8 277.5 281.1 C279.7 286.5 282.9 292.1 286.1 296.8 C289.4 301.5 295.3 307.4 297.1 309.5" fill="none" stroke="#85551e" stroke-width="5.4" stroke-linecap="butt"/>
<path d="M279.7 208.8 C279.2 210.6 277.7 215.5 276.8 219.6 C275.8 223.6 274.7 228.4 274.0 233.2 C273.3 238.1 272.6 243.7 272.5 248.9 C272.3 254.1 272.4 259.2 273.2 264.5 C274.1 269.9 275.4 275.8 277.5 281.1 C279.7 286.5 282.9 292.1 286.1 296.8 C289.4 301.5 295.3 307.4 297.1 309.5" fill="none" stroke="#cf9436" stroke-width="3.6"/>
<path d="M280.3 208.8 C279.8 210.6 278.3 215.5 277.4 219.6 C276.4 223.6 275.3 228.4 274.6 233.2 C273.9 238.1 273.2 243.7 273.1 248.9 C272.9 254.1 273.0 259.2 273.8 264.5 C274.7 269.9 276.0 275.8 278.1 281.1 C280.3 286.5 283.5 292.1 286.7 296.8 C290.0 301.5 295.9 307.4 297.7 309.5" fill="none" stroke="#e9bd66" stroke-width="1.1"/>
<circle cx="272.9" cy="219.2" r="2.2" fill="#d9606e"/>
<circle cx="269.7" cy="233.8" r="2.2" fill="#d9606e"/>
<circle cx="267.8" cy="250.8" r="2.2" fill="#d9606e"/>
</g>
<!-- spinal needle -->
<path d="M276.2 266.9 L324.4 276" stroke="#7d7d7d" stroke-width="1.1" fill="none"/>
<path d="M324 274.2 L337.2 276.8 L336.6 280.6 L323.4 278 Z" fill="#7c7c7c"/>

<!-- ===================== CSF TUBE ===================== -->
<g id="csftube">
<path d="M343.6 251 L343.6 327 C343.6 339 362 339 362 327 L362 251 Z" fill="#f6f6f7" stroke="#a9afb8" stroke-width="1.1"/>
<path d="M355.6 262 C358.6 262 359.6 266 359.6 270 L359.6 320 C359.6 326 357 330 355.6 330 Z" fill="#e6e6ea"/>
<path d="M342.4 226.4 C346 223.8 360 223.8 363.6 226.4 L364 245 L364.6 246 L364.6 251.4 C358 254.4 348 254.4 341.6 251.4 L341.6 246 L342.2 245 Z" fill="#9ba6ad"/>
<path d="M341.8 250 C348 247.6 358 247.6 364.4 250 L364.4 251.6 C358 254.6 348 254.6 341.8 251.6 Z" fill="#82919a"/>
<path d="M341.6 246 C348 248.2 358 248.2 364.6 246" stroke="#87949c" stroke-width="0.7" fill="none"/>
<path d="M343 227.6 C348 229.4 358 229.4 363 227.6" stroke="#8b98a0" stroke-width="0.6" fill="none"/>
<path d="M356.4 230 L356.4 243" stroke="#c3cbd0" stroke-width="0.9" fill="none"/>
<path d="M348.6 268 q1.4 -1.6 2.2 0.4 q0.8 2 2.2 0.4 q1.2 -1.4 1.6 1 q0.4 2.6 1.8 2.2" fill="none" stroke="#c78b93" stroke-width="0.7"/>
<path d="M348.4 288 q1.2 -2 2.6 -0.4 q1.4 1.6 2.6 -0.4 q1.2 -2 2.6 -1.6" fill="none" stroke="#c78b93" stroke-width="0.7"/>
<circle cx="352.1" cy="331" r="4.1" fill="#d9868e"/>
<circle cx="352.1" cy="331" r="2.8" fill="#cf6c76"/>
</g>

<!-- ===================== PLASMA TUBE ===================== -->
<g id="plasmatube">
<path d="M279.4 362 L279.4 438.6 C279.4 452.4 297.6 452.4 297.6 438.6 L297.6 362 Z" fill="#eeeeee" stroke="#9a9a9a" stroke-width="0.9"/>
<path d="M280.2 374.4 L296.8 374.4 L296.8 406.8 L280.2 406.8 Z" fill="#e1b52f"/>
<path d="M280.2 374.4 L283 374.4 L283 406.8 L280.2 406.8 Z" fill="#e8c658"/>
<path d="M294.6 374.4 L296.8 374.4 L296.8 406.8 L294.6 406.8 Z" fill="#d9a62a"/>
<path d="M280.2 374.6 C284 373 293 373 296.8 374.6 C293 378 284 378 280.2 374.6 Z" fill="#ecc94f"/>
<path d="M280.2 406.6 L296.8 406.6 L296.8 409.6 L280.2 409.6 Z" fill="#f8ead8"/>
<path d="M280.2 409.5 L296.8 409.5 L296.8 438.6 C296.8 451.4 280.2 451.4 280.2 438.6 Z" fill="#a63a3c"/>
<path d="M280.2 409.5 L283 409.5 L283 440 C283 444 281.6 445 280.2 438.6 Z" fill="#b85a5b"/>
<path d="M294.6 409.5 L296.8 409.5 L296.8 438.6 C296.6 443 295.6 445 294.6 446 Z" fill="#8f2e30"/>
<path d="M283 388.4 C284.6 388.6 285.4 386.4 286.4 385.4 C287.6 384.4 288.6 386.4 289.6 385 C290.6 383.6 289.8 382.2 290.8 381.2 C291.6 380.4 292.6 381.4 292.4 382.8" fill="none" stroke="#a87a20" stroke-width="0.8" stroke-linecap="round"/>
<path d="M284.6 393.4 C286.4 393.4 286 395.6 287 396.4 C288.2 397.2 289.2 395.8 290.2 396.8 C291.2 397.8 290 399.6 291 400.6 C292 401.6 293 400.6 292.6 402.4 C292.4 403 291.6 402.8 291 402.6" fill="none" stroke="#a87a20" stroke-width="0.8" stroke-linecap="round"/>
<!-- orange cap -->
<path d="M278.6 341.6 C283 338.8 294.6 338.8 299 341.6 L300 362 C294 366.6 283.6 366.6 277.4 362 Z" fill="#e8742c"/>
<path d="M277.6 358 C284 361.6 293.6 361.6 299.8 358" stroke="#c95c1a" stroke-width="0.9" fill="none"/>
<path d="M279 341.8 C284 344 294 344 298.6 341.8" stroke="#f08d4c" stroke-width="0.9" fill="none"/>
<g stroke="#d4651f" stroke-width="0.6"><path d="M282 344 L281.6 357"/><path d="M285.4 344.6 L285.2 358"/><path d="M288.8 344.8 L288.8 358.4"/><path d="M292.2 344.6 L292.4 358"/><path d="M295.6 344 L296 357"/></g>
</g>

<!-- ===================== CASSETTES ===================== -->
<g id="cassette1">
<path d="M82.7 186.6 L82.9 191.6 Q83 192.6 84 193 L110 200.8 Q111.6 201.2 112.6 199.8 L128.2 177.4 Q128.7 176.6 128.6 175.6 L128.6 170.2 L111.3 194.1 Z" fill="url(#cassside)"/>
<path d="M101.9 162.2 L128.6 170.2 L111.3 194.1 L82.7 186.6 Z" fill="#e6bde8"/>
<path d="M87.4 180 L87.6 182.4 L110.2 189 L121.4 171.4 L121.1 169.2 L109.9 186.6 Z" fill="#d9abe2"/>
<path d="M101 163.1 L121.1 169.2 L109.9 186.6 L87.4 180 Z" fill="#efdaf5"/>
<ellipse cx="104.3" cy="173.5" rx="4.4" ry="2.4" transform="rotate(-25 104.3 173.5)" fill="#7b656a"/>
</g>
<g id="cassette2" transform="translate(6.7 132.4) scale(0.95)">
<path d="M82.7 186.6 L82.9 191.6 Q83 192.6 84 193 L110 200.8 Q111.6 201.2 112.6 199.8 L128.2 177.4 Q128.7 176.6 128.6 175.6 L128.6 170.2 L111.3 194.1 Z" fill="url(#cassside)"/>
<path d="M101.9 162.2 L128.6 170.2 L111.3 194.1 L82.7 186.6 Z" fill="#e6bde8"/>
<path d="M87.4 180 L87.6 182.4 L110.2 189 L121.4 171.4 L121.1 169.2 L109.9 186.6 Z" fill="#d9abe2"/>
<path d="M101 163.1 L121.1 169.2 L109.9 186.6 L87.4 180 Z" fill="#efdaf5"/>
<ellipse cx="104.3" cy="173.5" rx="4.4" ry="2.4" transform="rotate(-25 104.3 173.5)" fill="#7b656a"/>
</g>

<!-- ===================== TEXT ===================== -->
<g font-size="15.1" fill="#000" text-anchor="middle" class="t" stroke="#000" stroke-width="0.28">
<text x="65.6" y="151.4">Primary tumour</text>
<text x="65.4" y="169.2" word-spacing="-0.8">n = 18</text>
<text x="76.6" y="268.4">Metastatic sites*</text>
<text x="76.6" y="287" word-spacing="-0.8">n = 8</text>
<text x="85.8" y="407.5">*Ovary (2), Skin (2),</text>
<text x="84" y="425.4">Brain (1), Liver (1),</text>
<text x="85.8" y="443.6">Sternal (1),</text>
<text x="86" y="461.2">Lymph node (1)</text>
<text x="349.2" y="200.1">CSF</text>
<text x="348.8" y="219.3" word-spacing="-0.6">n = 21</text>
<text x="328.4" y="383.9">Plasma</text>
<text x="329.6" y="402.2" word-spacing="-0.8">n = 11</text>
</g>

<g transform="translate(0 0.5)">
<g fill="none" stroke="#8a807b" stroke-width="1.3">
<path d="M485.4 80 V118"/>
<path d="M566.4 80 V99 M566.4 120.4 V147.7 M566.4 174.6 V212"/>
<path d="M485.4 144.2 V180"/>
<path d="M485.4 257.6 V275.4"/>
<path d="M515.1 286.8 H562"/>
<path d="M682.9 79 V112.3 M682.9 149.7 V163.4 M664.8 184.4 V163.4 H700 V184.4"/>
<path d="M654.4 205.7 V212"/>
<path d="M714.8 205.7 V286.8 H668"/>
</g>
<g fill="#707070">
<path d="M480.3 179.3 H490.7 L485.5 188 Z"/>
<path d="M561.3 211.2 H571.7 L566.5 220.2 Z"/>
<path d="M649.2 211.2 H659.6 L654.4 220.2 Z"/>
<path d="M561.6 281.5 V292.1 L570.8 286.8 Z"/>
<path d="M668.8 281.5 V292.1 L659.6 286.8 Z"/>
</g>
<rect x="446" y="37.5" width="149.8" height="42.4" rx="17" fill="#ececec" stroke="#444" stroke-width="1.2"/>
<rect x="608.3" y="36.5" width="150" height="42.4" rx="17" fill="#ececec" stroke="#444" stroke-width="1.2"/>
<rect x="540.4" y="99" width="50.9" height="21.4" rx="7.5" fill="#ececec" stroke="#444" stroke-width="1.2"/>
<rect x="446.3" y="118.1" width="72.1" height="26.1" rx="8" fill="#ececec" stroke="#444" stroke-width="1.2"/>
<rect x="531.6" y="147.7" width="71.9" height="26.9" rx="8" fill="#ececec" stroke="#444" stroke-width="1.2"/>
<rect x="637.3" y="112.4" width="91.8" height="37.3" rx="11" fill="#ececec" stroke="#444" stroke-width="1.2"/>
<rect x="627.3" y="184.4" width="52.3" height="21.3" rx="8" fill="#ececec" stroke="#444" stroke-width="1.2"/>
<rect x="688.2" y="184.4" width="52.1" height="21.3" rx="8" fill="#ececec" stroke="#444" stroke-width="1.2"/>
<rect x="452.8" y="235.6" width="72.3" height="22" rx="9.5" fill="#ececec" stroke="#444" stroke-width="1.2"/>
<rect x="463" y="275.4" width="52.1" height="21.6" rx="7.5" fill="#ececec" stroke="#444" stroke-width="1.2"/>
<rect x="548.6" y="224" width="129.3" height="37.7" rx="15" fill="#ececec" stroke="#444" stroke-width="1.2"/>
<rect x="577.1" y="272.9" width="72.3" height="26.9" rx="9" fill="#ececec" stroke="#444" stroke-width="1.2"/>
<g font-size="10.8" fill="#111" text-anchor="middle" transform="translate(0 -0.4)" class="t" stroke="#111" stroke-width="0.28">
<text x="522.6" y="55.8">CSF and plasma</text>
<text x="522.9" y="68.5">(at BCLM diagnosis)</text>
<text x="683.1" y="54.4">Primary tumour, metastasis</text>
<text x="683.2" y="67.4">(archived tissues)</text>
<text x="566" y="114">cfDNA</text>
<text x="478.9" y="136.5">CSF DTC</text>
<text x="568.5" y="166">≥10% ctDNA</text>
<text x="686.1" y="133.9">microdissected</text>
<text x="651.5" y="198">DNA</text>
<text x="714.9" y="198">RNA</text>
<text x="489.4" y="249.9">BCLM-PDO</text>
<text x="487" y="289.6">RNA</text>
<text x="612.3" y="240.3">Whole exome</text>
<text x="613.8" y="253">sequencing (200-400X)</text>
<text x="612.8" y="289.6" font-size="9.5">RNAseq</text>
</g>
<circle cx="613.3" cy="267.2" r="0.5" fill="#777"/>
<clipPath id="cupclip"><path d="M467.2 196.3 V202.9 A17.9 22.4 0 0 0 503 202.9 V196.3 Z"/></clipPath>
<g clip-path="url(#cupclip)"><rect x="460" y="204" width="50" height="30" fill="#fde2fb"/><rect x="460" y="217.1" width="50" height="20" fill="#f680cf"/></g>
<path d="M455.1 196.1 H467.2 V202.9 A17.9 22.4 0 0 0 503 202.9 V196.1 H514.5" fill="none" stroke="#222" stroke-width="1.2"/>
</g>
<rect x="887.5" y="221.1" width="28.4" height="46.7" fill="#add8e6"/>
<rect x="887.5" y="211" width="28.4" height="10.1" fill="#90ee90"/>
<rect x="887.5" y="189.2" width="28.4" height="21.8" fill="#e17da5"/>
<rect x="887.5" y="185.7" width="28.4" height="3.5" fill="#cccccc"/>
<rect x="887.5" y="168.3" width="28.4" height="17.4" fill="#dfff00"/>
<rect x="887.5" y="167.6" width="28.4" height="0.7" fill="#9a00b0"/>
<rect x="918.5" y="171.1" width="28.4" height="96.7" fill="#add8e6"/>
<rect x="918.5" y="125.4" width="28.4" height="45.7" fill="#90ee90"/>
<rect x="918.5" y="120" width="28.4" height="5.4" fill="#e17da5"/>
<rect x="918.5" y="113.2" width="28.4" height="6.8" fill="#cccccc"/>
<rect x="918.5" y="95.1" width="28.4" height="18.1" fill="#dfff00"/>
<rect x="949.5" y="205.9" width="28.4" height="61.9" fill="#add8e6"/>
<rect x="949.5" y="170.2" width="28.4" height="35.7" fill="#90ee90"/>
<rect x="949.5" y="164.3" width="28.4" height="5.9" fill="#dfff00"/>
<rect x="949.5" y="163.4" width="28.4" height="0.9" fill="#9a00b0"/>
<rect x="980.5" y="185.9" width="28.4" height="81.9" fill="#add8e6"/>
<rect x="980.5" y="166.2" width="28.4" height="19.7" fill="#90ee90"/>
<rect x="980.5" y="150.6" width="28.4" height="15.6" fill="#e17da5"/>
<rect x="980.5" y="146.3" width="28.4" height="4.3" fill="#dfff00"/>
<rect x="980.5" y="142.8" width="28.4" height="3.5" fill="#9a00b0"/>
<path d="M882.7 44.2 V279 M871.3 279 H1035.4" fill="none" stroke="#595959" stroke-width="1.7"/>
<g font-size="9.5" fill="#4d4d4d" text-anchor="end" class="t" stroke="#4d4d4d" stroke-width="0.28">
<text x="880" y="269.9">0.000</text>
<rect x="880.6" y="266.4" width="1.4" height="0.8" fill="#555"/>
<text x="880" y="225.48">0.025</text>
<rect x="880.6" y="221.98" width="1.4" height="0.8" fill="#555"/>
<text x="880" y="181.06">0.050</text>
<rect x="880.6" y="177.56" width="1.4" height="0.8" fill="#555"/>
<text x="880" y="136.64">0.075</text>
<rect x="880.6" y="133.14" width="1.4" height="0.8" fill="#555"/>
<text x="880" y="92.22">0.100</text>
<rect x="880.6" y="88.72" width="1.4" height="0.8" fill="#555"/>
<text x="880" y="47.8">0.125</text>
<rect x="880.6" y="44.3" width="1.4" height="0.8" fill="#555"/>
</g>
<rect x="894.1" y="279" width="1" height="1.4" fill="#555"/>
<rect x="932.8" y="279" width="1" height="1.4" fill="#555"/>
<rect x="971.9" y="279" width="1" height="1.4" fill="#555"/>
<g font-size="11" fill="#4d4d4d" text-anchor="end" class="t" stroke="#4d4d4d" stroke-width="0.28">
<text transform="translate(904 285) rotate(-45)">CSF cfDNA</text>
<text transform="translate(942 287.8) rotate(-45)">Plasma cfDNA</text>
<text transform="translate(979.2 285.8) rotate(-45)">Primary tumour</text>
<text transform="translate(1012.8 285.8) rotate(-45)">Metastasis</text>
</g>
<text transform="translate(830.6 142.5) rotate(-90)" font-size="12" text-anchor="middle" fill="#000" class="t" stroke="#000" stroke-width="0.28">Signature contribution</text>
<text x="891.4" y="75.8" font-size="12" fill="#000" class="t" stroke="#000" stroke-width="0.28"><tspan font-style="italic">p</tspan> = 0.033</text>
<rect x="896" y="82" width="38.9" height="2" fill="#4a4a4a"/>
<circle cx="1000" cy="192.5" r="0.7" fill="#555"/>
<g font-size="9.6" fill="#000" class="t" stroke="#000" stroke-width="0.28">
<rect x="1016.9" y="34.4" width="11" height="11" fill="#9a00b0"/>
<text x="1032.4" y="42">SBS11</text>
<rect x="1016.9" y="46.5" width="11" height="11" fill="#dfff00"/>
<text x="1032.4" y="54.1">SBS17b</text>
<rect x="1016.9" y="58.6" width="11" height="11" fill="#cccccc"/>
<text x="1032.4" y="66.2">SBS28</text>
<rect x="1016.9" y="70.7" width="11" height="11" fill="#e17da5"/>
<text x="1032.4" y="78.3">SBS31</text>
<rect x="1016.9" y="82.8" width="11" height="11" fill="#90ee90"/>
<text x="1032.4" y="90.4">SBS35</text>
<rect x="1016.9" y="94.9" width="11" height="11" fill="#add8e6"/>
<text x="1032.4" y="102.5">SBS86</text>
</g>
<g shape-rendering="auto">
<rect x="436.5" y="403.8" width="17.4" height="137.02" fill="#e17da5"/>
<rect x="436.5" y="540.82" width="17.4" height="8.69" fill="#cccccc"/>
<rect x="436.5" y="549.51" width="17.4" height="21.39" fill="#90ee90"/>
<rect x="455.76" y="403.8" width="17.4" height="122.15" fill="#e17da5"/>
<rect x="455.76" y="525.95" width="17.4" height="26.9" fill="#cccccc"/>
<rect x="455.76" y="552.85" width="17.4" height="18.05" fill="#90ee90"/>
<rect x="475.02" y="403.8" width="17.4" height="108.45" fill="#e17da5"/>
<rect x="475.02" y="512.25" width="17.4" height="25.57" fill="#cccccc"/>
<rect x="475.02" y="537.81" width="17.4" height="33.09" fill="#90ee90"/>
<rect x="494.28" y="403.8" width="17.4" height="97.42" fill="#e17da5"/>
<rect x="494.28" y="501.22" width="17.4" height="39.1" fill="#cccccc"/>
<rect x="494.28" y="540.32" width="17.4" height="30.58" fill="#90ee90"/>
<rect x="513.54" y="403.8" width="17.4" height="94.24" fill="#e17da5"/>
<rect x="513.54" y="498.04" width="17.4" height="56.65" fill="#cccccc"/>
<rect x="513.54" y="554.69" width="17.4" height="16.21" fill="#90ee90"/>
<rect x="532.8" y="403.8" width="17.4" height="93.41" fill="#e17da5"/>
<rect x="532.8" y="497.21" width="17.4" height="36.26" fill="#cccccc"/>
<rect x="532.8" y="533.47" width="17.4" height="37.43" fill="#90ee90"/>
<rect x="552.06" y="403.8" width="17.4" height="90.07" fill="#e17da5"/>
<rect x="552.06" y="493.87" width="17.4" height="41.11" fill="#cccccc"/>
<rect x="552.06" y="534.97" width="17.4" height="35.93" fill="#90ee90"/>
<rect x="571.32" y="403.8" width="17.4" height="86.22" fill="#e17da5"/>
<rect x="571.32" y="490.02" width="17.4" height="51.47" fill="#cccccc"/>
<rect x="571.32" y="541.49" width="17.4" height="29.41" fill="#90ee90"/>
<rect x="590.58" y="403.8" width="17.4" height="79.87" fill="#e17da5"/>
<rect x="590.58" y="483.67" width="17.4" height="23.56" fill="#cccccc"/>
<rect x="590.58" y="507.23" width="17.4" height="63.67" fill="#90ee90"/>
<rect x="609.84" y="403.8" width="17.4" height="78.2" fill="#e17da5"/>
<rect x="609.84" y="482" width="17.4" height="62.33" fill="#cccccc"/>
<rect x="609.84" y="544.33" width="17.4" height="26.57" fill="#90ee90"/>
<rect x="629.1" y="403.8" width="17.4" height="76.03" fill="#e17da5"/>
<rect x="629.1" y="479.83" width="17.4" height="91.07" fill="#90ee90"/>
<rect x="648.36" y="403.8" width="17.4" height="75.36" fill="#e17da5"/>
<rect x="648.36" y="479.16" width="17.4" height="39.1" fill="#cccccc"/>
<rect x="648.36" y="518.26" width="17.4" height="52.64" fill="#90ee90"/>
<rect x="667.62" y="403.8" width="17.4" height="71.85" fill="#e17da5"/>
<rect x="667.62" y="475.65" width="17.4" height="18.38" fill="#cccccc"/>
<rect x="667.62" y="494.03" width="17.4" height="76.87" fill="#90ee90"/>
<rect x="686.88" y="403.8" width="17.4" height="70.01" fill="#e17da5"/>
<rect x="686.88" y="473.81" width="17.4" height="20.22" fill="#cccccc"/>
<rect x="686.88" y="494.03" width="17.4" height="76.87" fill="#90ee90"/>
<rect x="706.14" y="403.8" width="17.4" height="68.68" fill="#e17da5"/>
<rect x="706.14" y="472.48" width="17.4" height="59.15" fill="#cccccc"/>
<rect x="706.14" y="531.63" width="17.4" height="39.27" fill="#90ee90"/>
<rect x="725.4" y="403.8" width="17.4" height="42.94" fill="#e17da5"/>
<rect x="725.4" y="446.74" width="17.4" height="96.92" fill="#cccccc"/>
<rect x="725.4" y="543.66" width="17.4" height="27.24" fill="#90ee90"/>
<rect x="744.66" y="403.8" width="17.4" height="24.23" fill="#e17da5"/>
<rect x="744.66" y="428.03" width="17.4" height="108.95" fill="#cccccc"/>
<rect x="744.66" y="536.98" width="17.4" height="33.92" fill="#90ee90"/>
</g>
<path d="M420.6 395.6 V579.1 H778.6" fill="none" stroke="#000" stroke-width="2.3"/>
<g font-size="10.5" fill="#4d4d4d" text-anchor="end" class="t" stroke="#4d4d4d" stroke-width="0.28">
<text x="415.4" y="573.15">0.00</text>
<rect x="418.6" y="570.4" width="1.6" height="1" fill="#333"/>
<text x="415.4" y="531.6">0.25</text>
<rect x="418.6" y="528.62" width="1.6" height="1" fill="#333"/>
<text x="415.4" y="490.05">0.50</text>
<rect x="418.6" y="486.85" width="1.6" height="1" fill="#333"/>
<text x="415.4" y="448.5">0.75</text>
<rect x="418.6" y="445.07" width="1.6" height="1" fill="#333"/>
<text x="415.4" y="406.95">1.00</text>
<rect x="418.6" y="403.3" width="1.6" height="1" fill="#333"/>
</g>
<g font-size="10.7" fill="#4d4d4d" text-anchor="end" class="t" stroke="#4d4d4d" stroke-width="0.28">
<rect x="444.7" y="580" width="1" height="1.8" fill="#333"/>
<text transform="translate(450.7 584.4) rotate(-90)">RMH010</text>
<rect x="463.96" y="580" width="1" height="1.8" fill="#333"/>
<text transform="translate(469.84 584.4) rotate(-90)">KCL566</text>
<rect x="483.22" y="580" width="1" height="1.8" fill="#333"/>
<text transform="translate(488.98 584.4) rotate(-90)">KCL449</text>
<rect x="502.48" y="580" width="1" height="1.8" fill="#333"/>
<text transform="translate(508.12 584.4) rotate(-90)">KCL523</text>
<rect x="521.74" y="580" width="1" height="1.8" fill="#333"/>
<text transform="translate(527.26 584.4) rotate(-90)">KCL680</text>
<rect x="541" y="580" width="1" height="1.8" fill="#333"/>
<text transform="translate(546.4 584.4) rotate(-90)">KCL450</text>
<rect x="560.26" y="580" width="1" height="1.8" fill="#333"/>
<text transform="translate(565.54 584.4) rotate(-90)">KCL320</text>
<rect x="579.52" y="580" width="1" height="1.8" fill="#333"/>
<text transform="translate(584.68 584.4) rotate(-90)">KCL148</text>
<rect x="598.78" y="580" width="1" height="1.8" fill="#333"/>
<text transform="translate(603.82 584.4) rotate(-90)">KCL590</text>
<rect x="618.04" y="580" width="1" height="1.8" fill="#333"/>
<text transform="translate(622.96 584.4) rotate(-90)">KCL617</text>
<rect x="637.3" y="580" width="1" height="1.8" fill="#333"/>
<text transform="translate(642.1 584.4) rotate(-90)">KCL625</text>
<rect x="656.56" y="580" width="1" height="1.8" fill="#333"/>
<text transform="translate(661.24 584.4) rotate(-90)">KCL610</text>
<rect x="675.82" y="580" width="1" height="1.8" fill="#333"/>
<text transform="translate(680.38 584.4) rotate(-90)">KCL616</text>
<rect x="695.08" y="580" width="1" height="1.8" fill="#333"/>
<text transform="translate(699.52 584.4) rotate(-90)">KCL448</text>
<rect x="714.34" y="580" width="1" height="1.8" fill="#333"/>
<text transform="translate(718.66 584.4) rotate(-90)">KCL553</text>
<rect x="733.6" y="580" width="1" height="1.8" fill="#333"/>
<text transform="translate(737.8 584.4) rotate(-90)">KCL622</text>
<rect x="752.86" y="580" width="1" height="1.8" fill="#333"/>
<text transform="translate(756.94 584.4) rotate(-90)">KCL499</text>
</g>
<text transform="translate(379.2 486.9) rotate(-90)" font-size="15" text-anchor="middle" fill="#000" class="t" stroke="#000" stroke-width="0.28">Proportion of variants</text>
<rect x="474" y="377" width="14.4" height="14.4" fill="#e17da5"/>
<rect x="576" y="377" width="14.4" height="14.4" fill="#cccccc"/>
<rect x="642.6" y="377" width="14.4" height="14.4" fill="#90ee90"/>
<g font-size="10.7" fill="#000" text-anchor="middle" class="t" stroke="#000" stroke-width="0.28">
<text x="520" y="381.3">Unique to</text><text x="521" y="393.8">CSF cfDNA</text>
<text x="612.6" y="387.6">Shared</text>
<text x="694.5" y="381.3">Unique to</text><text x="696" y="393.8">primary tumour</text>
</g>
<rect x="640" y="394.6" width="140" height="6" fill="#fff"/>
<rect x="851.4" y="400.3" width="14.1" height="123.48" fill="#e17da5"/>
<rect x="851.4" y="523.78" width="14.1" height="26.6" fill="#cccccc"/>
<rect x="851.4" y="550.38" width="14.1" height="22.62" fill="#90ee90"/>
<rect x="867.35" y="400.3" width="14.1" height="107.59" fill="#e17da5"/>
<rect x="867.35" y="507.89" width="14.1" height="48.36" fill="#cccccc"/>
<rect x="867.35" y="556.25" width="14.1" height="16.75" fill="#90ee90"/>
<rect x="883.3" y="400.3" width="14.1" height="73.74" fill="#e17da5"/>
<rect x="883.3" y="474.04" width="14.1" height="35.23" fill="#cccccc"/>
<rect x="883.3" y="509.27" width="14.1" height="63.73" fill="#90ee90"/>
<rect x="899.25" y="400.3" width="14.1" height="60.1" fill="#e17da5"/>
<rect x="899.25" y="460.4" width="14.1" height="72.36" fill="#cccccc"/>
<rect x="899.25" y="532.76" width="14.1" height="40.24" fill="#90ee90"/>
<rect x="915.2" y="400.3" width="14.1" height="49.05" fill="#e17da5"/>
<rect x="915.2" y="449.35" width="14.1" height="74.43" fill="#cccccc"/>
<rect x="915.2" y="523.78" width="14.1" height="49.22" fill="#90ee90"/>
<rect x="931.15" y="400.3" width="14.1" height="42.48" fill="#e17da5"/>
<rect x="931.15" y="442.78" width="14.1" height="32.81" fill="#cccccc"/>
<rect x="931.15" y="475.6" width="14.1" height="97.4" fill="#90ee90"/>
<rect x="947.1" y="400.3" width="14.1" height="35.23" fill="#e17da5"/>
<rect x="947.1" y="435.53" width="14.1" height="108.8" fill="#cccccc"/>
<rect x="947.1" y="544.33" width="14.1" height="28.67" fill="#90ee90"/>
<rect x="963.05" y="400.3" width="14.1" height="30.4" fill="#e17da5"/>
<rect x="963.05" y="430.7" width="14.1" height="115.71" fill="#cccccc"/>
<rect x="963.05" y="546.4" width="14.1" height="26.6" fill="#90ee90"/>
<rect x="979" y="400.3" width="14.1" height="24.52" fill="#e17da5"/>
<rect x="979" y="424.82" width="14.1" height="144.72" fill="#cccccc"/>
<rect x="979" y="569.55" width="14.1" height="3.45" fill="#90ee90"/>
<rect x="994.95" y="400.3" width="14.1" height="19.17" fill="#e17da5"/>
<rect x="994.95" y="419.47" width="14.1" height="110.01" fill="#cccccc"/>
<rect x="994.95" y="529.48" width="14.1" height="43.52" fill="#90ee90"/>
<rect x="1010.9" y="400.3" width="14.1" height="13.3" fill="#e17da5"/>
<rect x="1010.9" y="413.6" width="14.1" height="146.62" fill="#cccccc"/>
<rect x="1010.9" y="560.22" width="14.1" height="12.78" fill="#90ee90"/>
<path d="M842.9 391.6 V581.2 H1033.4" fill="none" stroke="#000" stroke-width="2.2"/>
<g font-size="10.5" fill="#4d4d4d" text-anchor="end" class="t" stroke="#4d4d4d" stroke-width="0.28">
<text x="835.9" y="575.06">0.00</text>
<rect x="840.8" y="572.5" width="1.6" height="1" fill="#333"/>
<text x="835.9" y="533.36">0.25</text>
<rect x="840.8" y="529.33" width="1.6" height="1" fill="#333"/>
<text x="835.9" y="491.96">0.50</text>
<rect x="840.8" y="486.15" width="1.6" height="1" fill="#333"/>
<text x="835.9" y="450.26">0.75</text>
<rect x="840.8" y="442.98" width="1.6" height="1" fill="#333"/>
<text x="835.9" y="405.96">1.00</text>
<rect x="840.8" y="399.8" width="1.6" height="1" fill="#333"/>
</g>
<g font-size="11.1" fill="#1a1a1a" text-anchor="end" class="t" stroke="#1a1a1a" stroke-width="0.28">
<rect x="857.95" y="582.4" width="1" height="1.8" fill="#333"/>
<text transform="translate(862 586) rotate(-90)">KCL622</text>
<rect x="873.9" y="582.4" width="1" height="1.8" fill="#333"/>
<text transform="translate(878.26 586) rotate(-90)">KCL499</text>
<rect x="889.85" y="582.4" width="1" height="1.8" fill="#333"/>
<text transform="translate(894.52 586) rotate(-90)">KCL650</text>
<rect x="905.8" y="582.4" width="1" height="1.8" fill="#333"/>
<text transform="translate(910.78 586) rotate(-90)">RMH010</text>
<rect x="921.75" y="582.4" width="1" height="1.8" fill="#333"/>
<text transform="translate(927.04 586) rotate(-90)">KCL610</text>
<rect x="937.7" y="582.4" width="1" height="1.8" fill="#333"/>
<text transform="translate(943.3 586) rotate(-90)">KCL590</text>
<rect x="953.65" y="582.4" width="1" height="1.8" fill="#333"/>
<text transform="translate(959.56 586) rotate(-90)">KCL523</text>
<rect x="969.6" y="582.4" width="1" height="1.8" fill="#333"/>
<text transform="translate(975.82 586) rotate(-90)">KCL448</text>
<rect x="985.55" y="582.4" width="1" height="1.8" fill="#333"/>
<text transform="translate(992.08 586) rotate(-90)">RMH008</text>
<rect x="1001.5" y="582.4" width="1" height="1.8" fill="#333"/>
<text transform="translate(1008.34 586) rotate(-90)">KCL566</text>
<rect x="1017.45" y="582.4" width="1" height="1.8" fill="#333"/>
<text transform="translate(1024.6 586) rotate(-90)">KCL658</text>
</g>
<text transform="translate(798.7 487.4) rotate(-90)" font-size="14.9" text-anchor="middle" fill="#000" class="t" stroke="#000" stroke-width="0.28">Proportion of variants</text>
<rect x="848.1" y="370.6" width="14.1" height="14.3" fill="#e17da5"/>
<rect x="955.3" y="354.9" width="14.7" height="14.2" fill="#cccccc"/>
<rect x="954" y="377.3" width="14.8" height="14.4" fill="#90ee90"/>
<g font-size="10.6" fill="#000" text-anchor="middle" class="t" stroke="#000" stroke-width="0.28">
<text x="893.4" y="375">Unique to</text><text x="894" y="387.4">CSF cfDNA</text>
<text x="991.2" y="365.5">Shared</text>
<text x="1005.4" y="381.8">Unique to</text><text x="1007" y="393.7">plasma cfDNA</text>
</g>
<g font-weight="bold" font-size="21.2" fill="#000" class="t" stroke="#000" stroke-width="0.5">
<text x="25" y="32.5">a</text>
<text x="414.6" y="31.8">b</text>
<text x="801.3" y="32.6">c</text>
<text x="414.8" y="379">d</text>
<text x="800.9" y="378.8">e</text>
</g>
</svg></body></html>
